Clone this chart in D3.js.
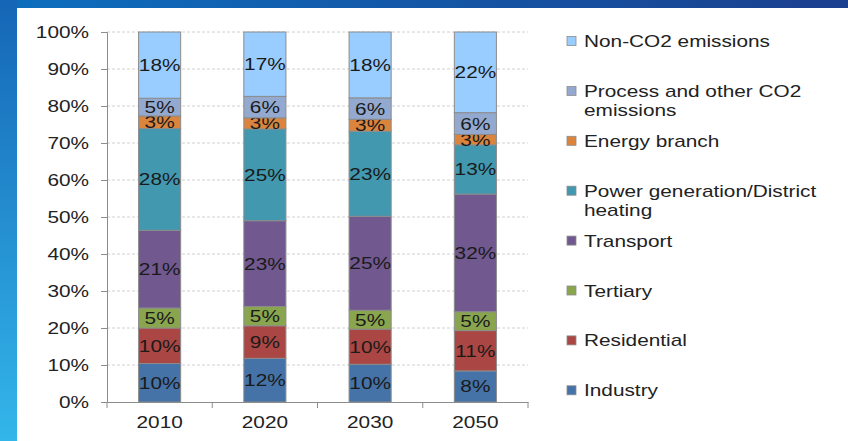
<!DOCTYPE html>
<html>
<head>
<meta charset="utf-8">
<script src="https://cdn.jsdelivr.net/npm/d3@7"></script>
<style>
  body { margin: 0; padding: 0; overflow: hidden; }
  svg { display: block; font-family: "Liberation Sans", Arial, sans-serif; }
</style>
</head>
<body>
<div id="chart"></div>
<script>
const years = ["2010", "2020", "2030", "2050"]
// stack order, bottom to top
const sectors = ["Industry", "Residential", "Tertiary", "Transport",
  "Power generation/District heating", "Energy branch",
  "Process and other CO2 emissions", "Non-CO2 emissions"]
const industry    = [10.4, 11.8, 10.2, 8.4]
const residential = [9.6, 8.8, 9.5, 10.9]
const tertiary    = [5.4, 5.2, 5.1, 5.1]
const transport   = [21.0, 23.2, 25.4, 31.8]
const power       = [27.5, 24.8, 23.0, 13.3]
const energy      = [3.4, 3.0, 3.2, 2.8]
const process     = [4.8, 5.8, 5.8, 5.9]
const nonCO2      = [17.9, 17.4, 17.8, 21.8]
const yTicks = [0, 10, 20, 30, 40, 50, 60, 70, 80, 90, 100]

const colors = ["#4572A7", "#AA4643", "#89A54E", "#71588F", "#4198AF", "#DB843D", "#93A9CF", "#99CCFF"]
const legendLines = [
  ["Non-CO2 emissions"],
  ["Process and other CO2", "emissions"],
  ["Energy branch"],
  ["Power generation/District", "heating"],
  ["Transport"],
  ["Tertiary"],
  ["Residential"],
  ["Industry"]
]

const width = 848, height = 441
const sx = 1.3  // the picture's text is stretched sideways

const svg = d3.select("#chart").append("svg")
  .attr("width", width)
  .attr("height", height)

const defs = svg.append("defs")
const gLeft = defs.append("linearGradient").attr("id", "gLeft")
  .attr("x1", 0).attr("y1", 0).attr("x2", 0).attr("y2", 1)
gLeft.append("stop").attr("offset", "0%").attr("stop-color", "#1566b6")
gLeft.append("stop").attr("offset", "100%").attr("stop-color", "#33b6ea")
const gTop = defs.append("linearGradient").attr("id", "gTop")
  .attr("x1", 0).attr("y1", 0).attr("x2", 1).attr("y2", 0)
gTop.append("stop").attr("offset", "0%").attr("stop-color", "#0d6fbf")
gTop.append("stop").attr("offset", "100%").attr("stop-color", "#1b3f8e")

svg.append("rect").attr("width", width).attr("height", height).attr("fill", "#fff")
svg.append("rect").attr("x", 0).attr("y", 0).attr("width", width).attr("height", 8).attr("fill", "url(#gTop)")
svg.append("rect").attr("x", 0).attr("y", 0).attr("width", 17).attr("height", height).attr("fill", "url(#gLeft)")

const table = years.map((yr, i) => {
  const row = { year: yr }
  const series = [industry, residential, tertiary, transport, power, energy, process, nonCO2]
  sectors.forEach((s, k) => row[s] = series[k][i])
  return row
})
const stacked = d3.stack().keys(sectors)(table)

const x = d3.scaleBand().domain(years).range([107, 528])
const y = d3.scaleLinear().domain([0, 100]).range([402, 32])
const barW = x.bandwidth() * 0.4

function stretchedText(sel, tx, ty) {
  return sel.attr("transform", (d, i) => `translate(${tx(d, i)},${ty(d, i)}) scale(${sx},1)`)
}

// grid
svg.append("g").selectAll("line")
  .data(yTicks.filter(t => t > 0))
  .join("line")
    .attr("x1", 107).attr("x2", 528)
    .attr("y1", d => y(d)).attr("y2", d => y(d))
    .attr("stroke", "#d0d0d0")
    .attr("stroke-dasharray", "3,2")

// bars
const layer = svg.append("g").selectAll("g")
  .data(stacked)
  .join("g")
    .attr("fill", (d, k) => colors[k])

layer.selectAll("rect")
  .data(d => d)
  .join("rect")
    .attr("x", d => x(d.data.year) + (x.bandwidth() - barW) / 2)
    .attr("y", d => y(d[1]))
    .attr("width", barW)
    .attr("height", d => y(d[0]) - y(d[1]))
    .attr("stroke", "#8c8c8c")
    .attr("stroke-width", 1)

layer.selectAll("text")
  .data(d => d)
  .join("text")
    .call(stretchedText, d => x(d.data.year) + x.bandwidth() / 2, d => y((d[0] + d[1]) / 2) + 6)
    .attr("text-anchor", "middle")
    .attr("fill", "#1a1a1a")
    .style("font-size", "16px")
    .text(d => Math.round(d[1] - d[0]) + "%")

// axes
const yAxis = svg.append("g")
  .attr("transform", "translate(107,0)")
  .call(d3.axisLeft(y).tickValues(yTicks).tickSize(6).tickFormat(""))
yAxis.select(".domain").attr("stroke", "#8c8c8c")
yAxis.selectAll(".tick line").attr("stroke", "#8c8c8c")

svg.append("g").selectAll("text")
  .data(yTicks)
  .join("text")
    .call(stretchedText, () => 89, d => y(d) + 6)
    .attr("text-anchor", "end")
    .attr("fill", "#222")
    .style("font-size", "16px")
    .text(d => d + "%")

const xAxis = svg.append("g")
  .attr("transform", "translate(0,402)")
  .call(d3.axisBottom(x).tickSize(0).tickFormat(""))
xAxis.select(".domain").attr("stroke", "#8c8c8c")
xAxis.selectAll(".tick line").remove()
svg.append("g").selectAll("line")
  .data(years.map(yr => x(yr)).concat([528]))
  .join("line")
    .attr("x1", d => d).attr("x2", d => d)
    .attr("y1", 402).attr("y2", 408)
    .attr("stroke", "#8c8c8c")

svg.append("g").selectAll("text")
  .data(years)
  .join("text")
    .call(stretchedText, d => x(d) + x.bandwidth() / 2, () => 428)
    .attr("text-anchor", "middle")
    .attr("fill", "#222")
    .style("font-size", "16px")
    .text(d => d)

// legend
const legend = svg.append("g").selectAll("g")
  .data(legendLines)
  .join("g")
    .attr("transform", (d, i) => `translate(567,${41 + i * 49.9})`)

legend.append("rect")
  .attr("x", 0).attr("y", -4.5)
  .attr("width", 9).attr("height", 9)
  .attr("fill", (d, i) => colors[colors.length - 1 - i])
  .attr("stroke", "#8c8c8c")
  .attr("stroke-width", 0.8)

legend.each(function(lines) {
  const t = d3.select(this).append("text")
    .attr("transform", `translate(17,6) scale(${sx},1)`)
    .attr("fill", "#222")
    .style("font-size", "16px")
  lines.forEach((ln, j) => {
    t.append("tspan").attr("x", 0).attr("dy", j === 0 ? 0 : 19).text(ln)
  })
})
</script>
</body>
</html>
